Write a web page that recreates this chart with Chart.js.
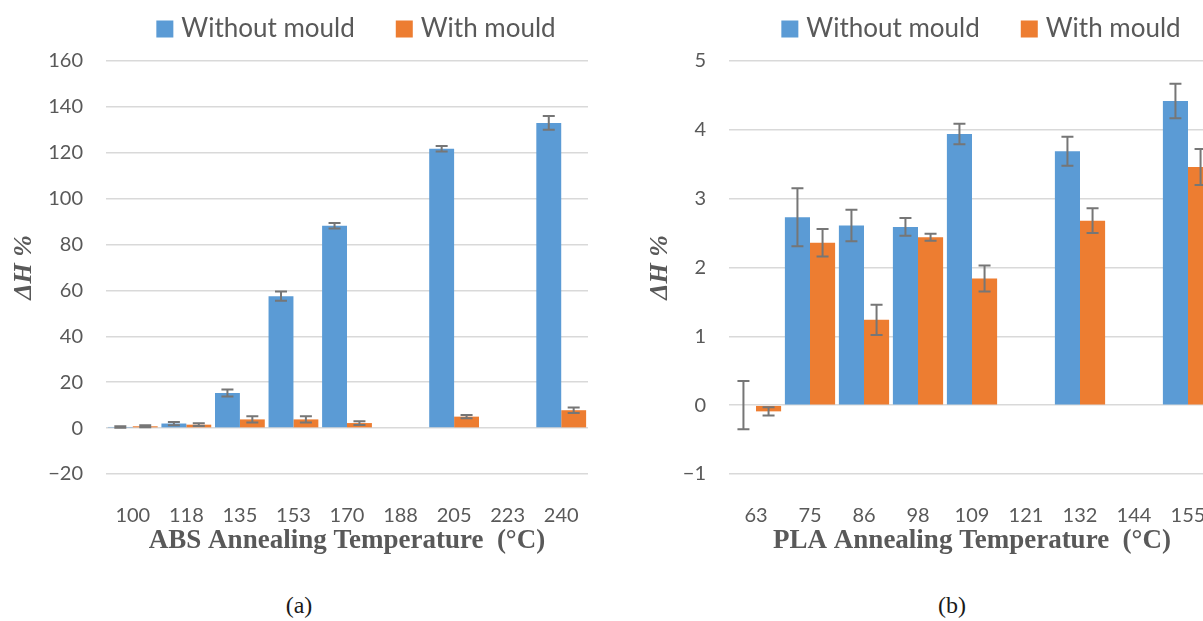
<!DOCTYPE html>
<html>
<head>
<meta charset="utf-8">
<script src="https://cdn.jsdelivr.net/npm/chart.js@4.4.1/dist/chart.umd.min.js"></script>
<style>
  html, body { margin: 0; padding: 0; background: #fff; width: 1203px; height: 621px; overflow: hidden; }
  #wrap { position: relative; width: 1203px; height: 621px; overflow: hidden; }
  canvas { position: absolute; top: 0; }
  #absCanvas { left: 0; }
  #plaCanvas { left: 620px; }
  .cap { position: absolute; top: 590px; font: 24px "Liberation Serif", serif; line-height: 30px; color: #1a1a1a; transform: translateX(-50%); }
</style>
</head>
<body>
<div id="wrap">
  <canvas id="absCanvas" width="610" height="560"></canvas>
  <canvas id="plaCanvas" width="620" height="560"></canvas>
  <div class="cap" style="left:299px">(a)</div>
  <div class="cap" style="left:952px">(b)</div>
</div>
<script>
// Series names shared by both panels
const seriesNames = ['Without mould', 'With mould'];

// (a) ABS
const absTemps = ['100', '118', '135', '153', '170', '188', '205', '223', '240'];
const absWithout = [0.5, 2.0, 15.3, 57.5, 88.2, null, 121.8, null, 133.0];
const absWithoutErr = [0.3, 0.7, 1.5, 2.0, 1.2, null, 1.2, null, 3.0];
const absWith = [0.8, 1.5, 3.8, 3.8, 2.2, null, 5.0, null, 7.8];
const absWithErr = [0.4, 0.6, 1.4, 1.4, 0.8, null, 0.7, null, 1.2];
const absYTicks = [-20, 0, 20, 40, 60, 80, 100, 120, 140, 160];

// (b) PLA
const plaTemps = ['63', '75', '86', '98', '109', '121', '132', '144', '155'];
const plaWithout = [0.0, 2.73, 2.61, 2.59, 3.94, null, 3.69, null, 4.42];
const plaWithoutErr = [0.35, 0.42, 0.23, 0.13, 0.15, null, 0.21, null, 0.25];
const plaWith = [-0.09, 2.36, 1.24, 2.44, 1.84, null, 2.68, null, 3.46];
const plaWithErr = [0.06, 0.20, 0.22, 0.05, 0.19, null, 0.18, null, 0.26];
const plaYTicks = [-1, 0, 1, 2, 3, 4, 5];

const BLUE = '#5b9bd5';
const ORANGE = '#ed7d31';
const TEXT = '#595959';

// Draws +/- error whiskers at each bar centre using the value scale
const errorBars = {
  id: 'errorBars',
  afterDatasetsDraw(chart) {
    const ctx = chart.ctx;
    const y = chart.scales.y;
    ctx.save();
    ctx.strokeStyle = '#767676';
    ctx.lineWidth = 2;
    chart.data.datasets.forEach((ds, i) => {
      const meta = chart.getDatasetMeta(i);
      meta.data.forEach((bar, j) => {
        const v = ds.data[j], e = ds.errors[j];
        if (v == null || e == null) return;
        const yTop = y.getPixelForValue(v + e);
        const yBot = y.getPixelForValue(v - e);
        const x = bar.x, cap = 6;
        ctx.beginPath();
        ctx.moveTo(x, yTop); ctx.lineTo(x, yBot);
        ctx.moveTo(x - cap, yTop); ctx.lineTo(x + cap, yTop);
        ctx.moveTo(x - cap, yBot); ctx.lineTo(x + cap, yBot);
        ctx.stroke();
      });
    });
    ctx.restore();
  }
};

// Single-row legend above the plot area
const legendRow = {
  id: 'legendRow',
  afterDraw(chart, args, opts) {
    const ctx = chart.ctx;
    ctx.save();
    ctx.font = '26px Lato';
    ctx.textBaseline = 'middle';
    const box = 17, gap = 8, spacing = 41;
    const items = chart.data.datasets.map(ds => ({
      text: ds.label, color: ds.backgroundColor, w: ctx.measureText(ds.label).width
    }));
    const total = items.reduce((s, it) => s + box + gap + it.w, 0) + spacing * (items.length - 1);
    const area = chart.chartArea;
    let x = (area.left + area.right) / 2 + opts.shift - total / 2;
    const yc = opts.y;
    items.forEach(it => {
      ctx.fillStyle = it.color;
      ctx.fillRect(x, yc - box / 2, box, box);
      x += box + gap;
      ctx.fillStyle = TEXT;
      ctx.fillText(it.text, x, yc);
      x += it.w + spacing;
    });
    ctx.restore();
  }
};

function buildPanel(canvasId, cats, s1, e1, s2, e2, yTicks, yMin, yMax, xTitle, yAxisWidth, yTitlePad, padRight) {
  return new Chart(document.getElementById(canvasId), {
    type: 'bar',
    data: {
      labels: cats,
      datasets: [
        { label: seriesNames[0], data: s1, errors: e1, backgroundColor: BLUE,
          categoryPercentage: 0.93, barPercentage: 1.0 },
        { label: seriesNames[1], data: s2, errors: e2, backgroundColor: ORANGE,
          categoryPercentage: 0.93, barPercentage: 1.0 }
      ]
    },
    options: {
      responsive: false,
      animation: false,
      devicePixelRatio: 1,
      layout: { padding: { left: 0, right: padRight, top: 61, bottom: 0 } },
      plugins: {
        legend: { display: false },
        tooltip: { enabled: false },
        legendRow: { y: 29, shift: 9 }
      },
      scales: {
        x: {
          afterFit: s => { s.height = 86; },
          grid: { display: false },
          border: { display: false },
          ticks: { padding: 22, color: TEXT, font: { family: 'Lato', size: 20 } },
          title: {
            display: true, text: xTitle, color: TEXT,
            font: { family: 'Liberation Serif', size: 27, weight: 'bold' },
            padding: { top: 0, bottom: 3 }
          }
        },
        y: {
          min: yMin, max: yMax,
          afterBuildTicks: s => { s.ticks = yTicks.map(v => ({ value: v })); },
          afterFit: s => { s.width = yAxisWidth; },
          grid: { color: '#d9d9d9', lineWidth: 1.5, drawTicks: false },
          border: { display: false },
          ticks: {
            padding: 23, color: TEXT, font: { family: 'Lato', size: 20 },
            callback: v => String(v).replace('-', '\u2212')
          },
          title: {
            display: true, text: '\u0394H %', color: TEXT,
            font: { family: 'Liberation Serif', size: 26, style: 'italic', weight: 'bold' },
            padding: { top: yTitlePad, bottom: 0 }
          }
        }
      }
    },
    plugins: [errorBars, legendRow]
  });
}

buildPanel('absCanvas', absTemps, absWithout, absWithoutErr, absWith, absWithErr,
  absYTicks, -20, 160, 'ABS Annealing Temperature  (\u00B0C)', 106, 9, 22);
buildPanel('plaCanvas', plaTemps, plaWithout, plaWithoutErr, plaWith, plaWithErr,
  plaYTicks, -1, 5, 'PLA Annealing Temperature  (\u00B0C)', 109, 25, 25);
</script>
</body>
</html>
